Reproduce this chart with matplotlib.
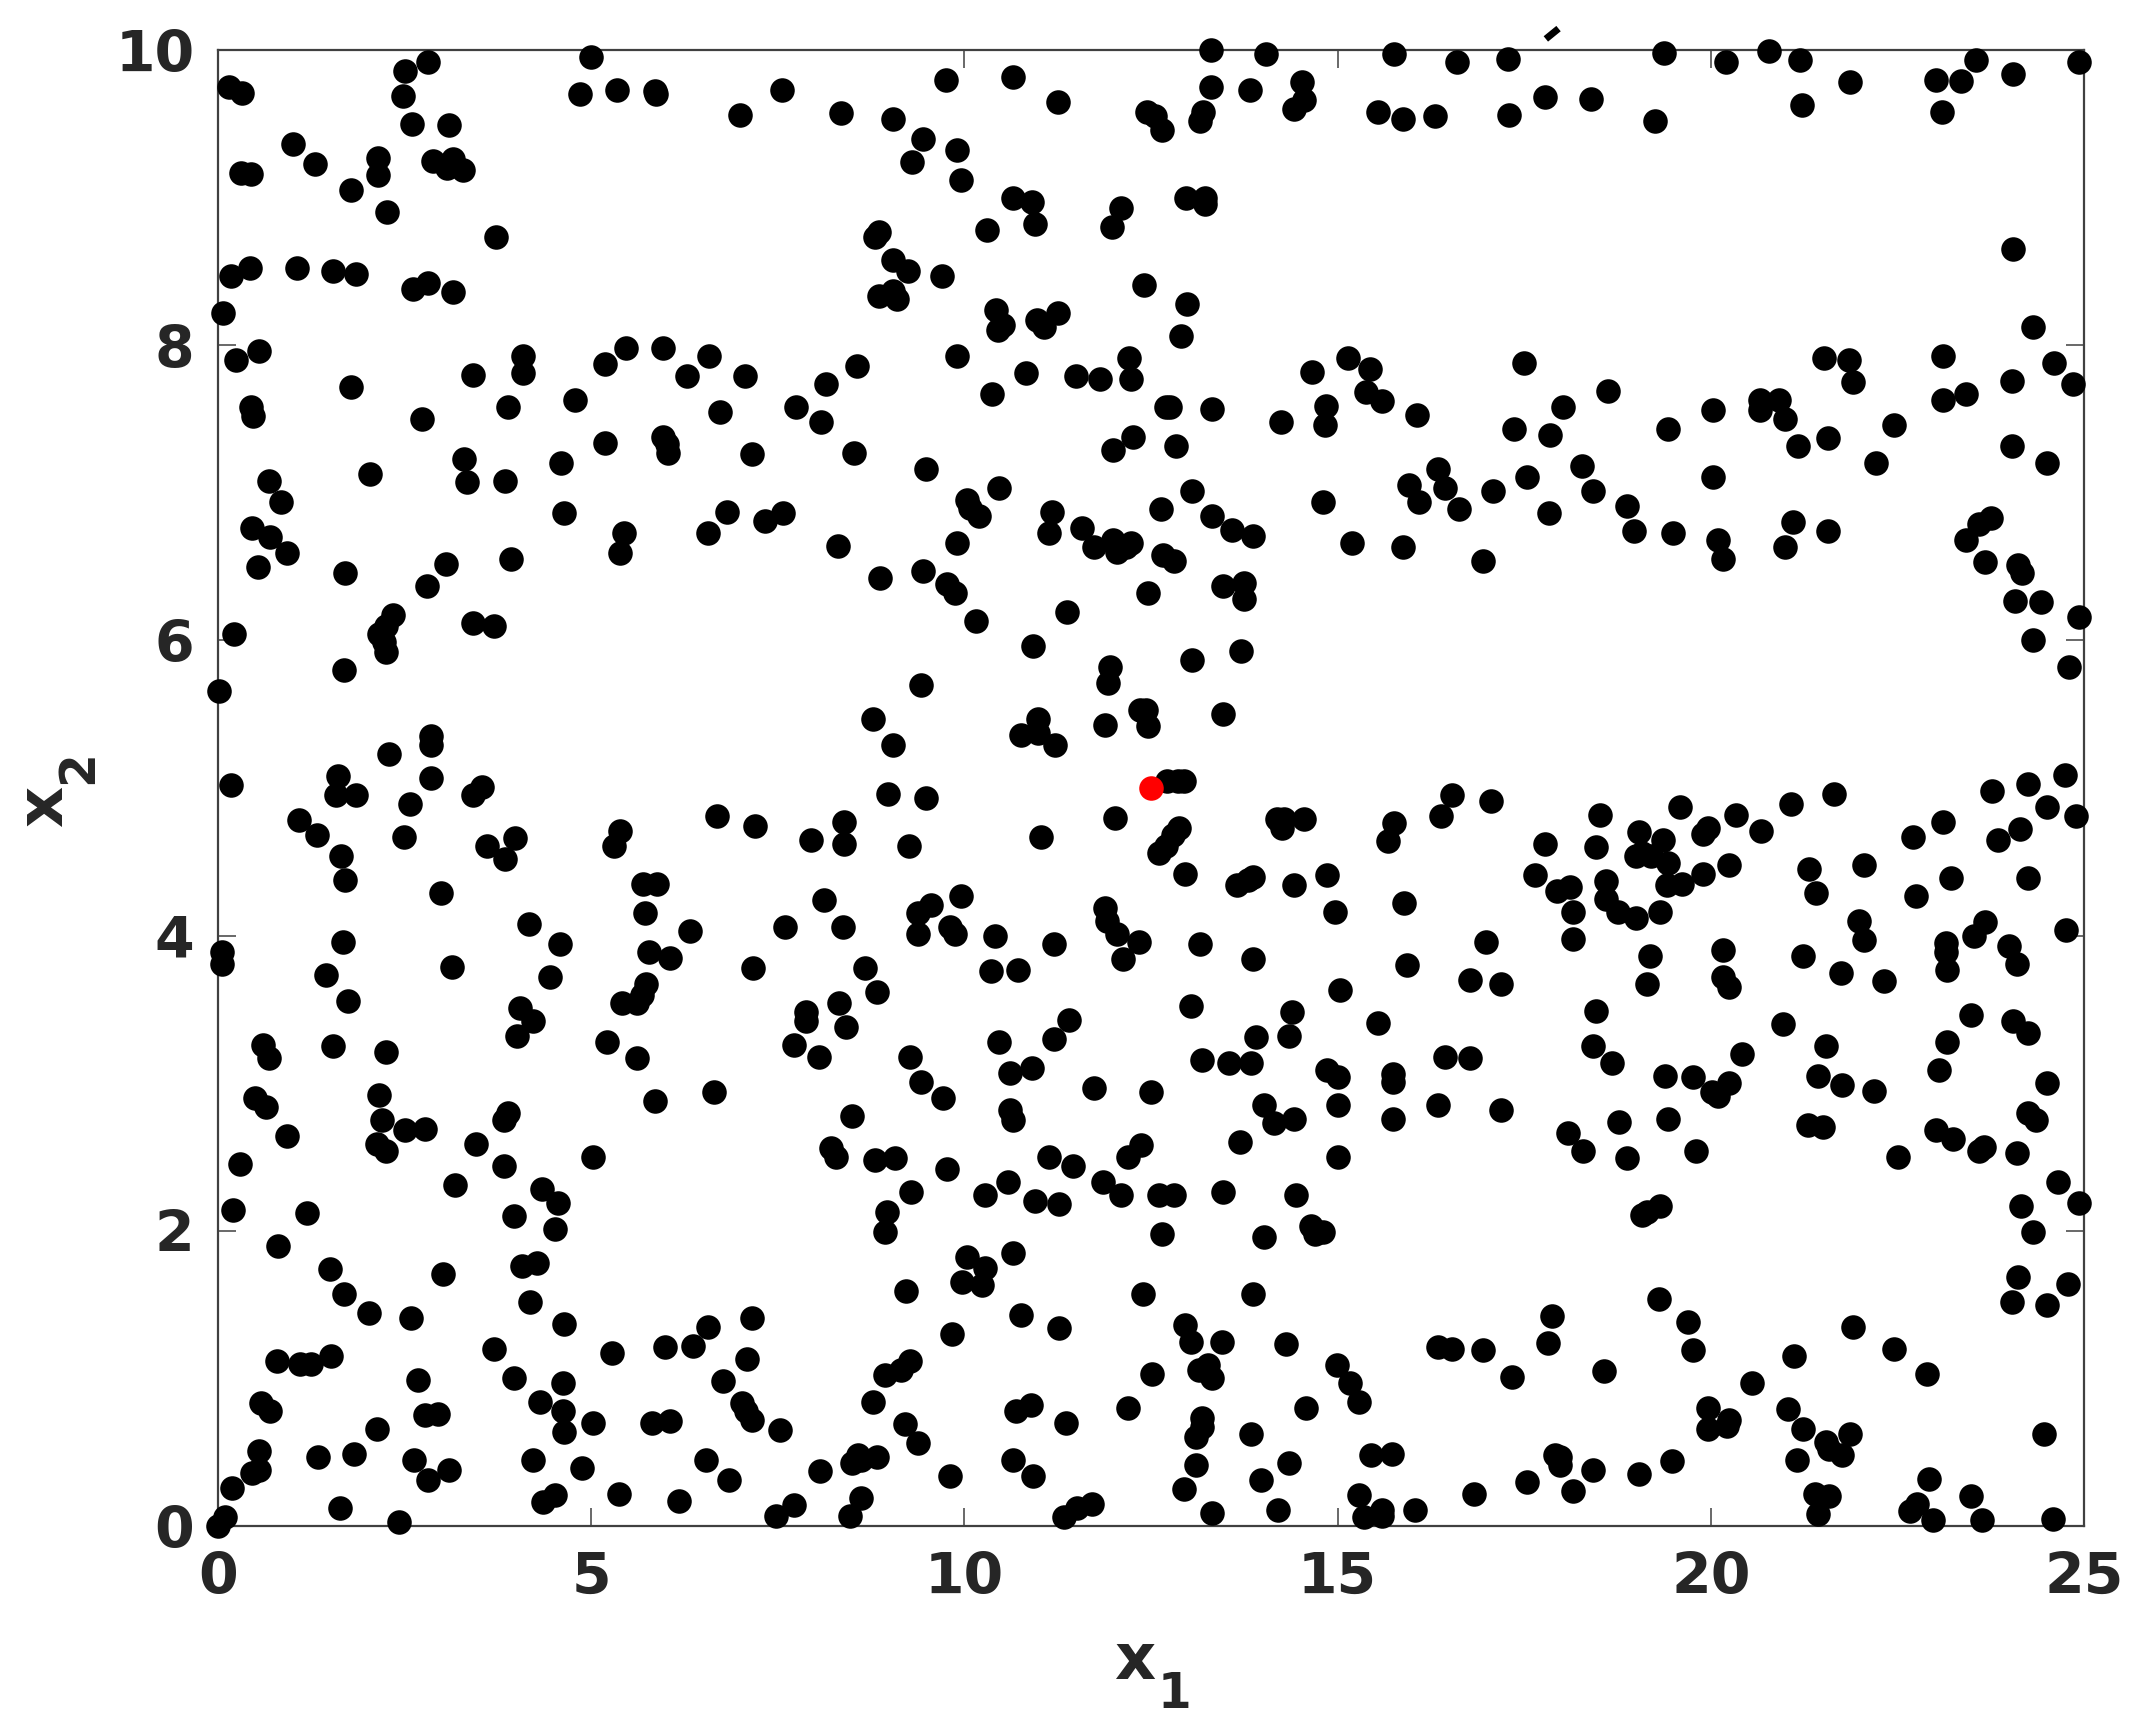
import matplotlib
matplotlib.use("Agg")
import matplotlib.pyplot as plt
import numpy as np

band_top = [
(.15,9.75),(.32,9.71),(1.0,9.36),(1.3,9.23),(.31,9.17),(.44,9.16),(2.5,9.86),(2.82,9.92),(2.48,9.69),(2.6,9.5),(3.09,9.49),
(2.15,9.27),(2.15,9.15),(1.78,9.05),(2.88,9.25),(3.15,9.26),(3.07,9.2),(3.28,9.19),(2.27,8.9),(3.72,8.73),(.18,8.47),(.43,8.52),
(1.06,8.52),(1.54,8.5),(1.85,8.48),(2.61,8.38),(2.82,8.42),(3.15,8.36),(.07,8.22),
(4.85,9.7),(5.0,9.95),(5.35,9.73),(5.85,9.72),(5.87,9.7),(7.0,9.56),(7.55,9.73),(8.35,9.57),(9.05,9.53),(9.45,9.4),(9.75,9.8),
(9.9,9.32),(10.65,9.82),(11.25,9.65),(9.3,9.24),(9.95,9.12),(10.65,9.0),(10.9,8.97),(10.95,8.82),(10.3,8.78),(8.8,8.73),(8.85,8.77),
(9.05,8.58),(9.25,8.5),(9.7,8.47),(8.85,8.33),(9.05,8.37),(9.1,8.31),(12.1,8.93),(11.98,8.8),(12.45,9.58),(12.55,9.55),(12.65,9.46),
(13.15,9.52),(13.2,9.58),(13.3,9.75),(13.3,10.0),(13.82,9.73),(14.04,9.97),(14.42,9.6),(14.52,9.78),(14.55,9.66),(12.97,9.0),(13.23,9.0),
(13.23,8.96),(15.76,9.97),(15.54,9.58),(15.87,9.53),(16.3,9.55),(16.6,9.92),(17.28,9.94),(17.3,9.56),(17.78,9.68),(18.4,9.67),(19.25,9.52),
(19.37,9.98),(20.2,9.92),(20.78,9.99),(21.2,9.93),(21.22,9.63),(21.87,9.78),(23.02,9.8),(23.35,9.79),(23.1,9.58),(23.55,9.93),(24.05,9.84),
(24.93,9.92),(24.05,8.65),(12.4,8.41),(12.98,8.28),(12.9,8.06),(10.43,8.24),(10.45,8.1),(10.52,8.14),(10.97,8.17),(11.07,8.12),(11.25,8.22),
]
band_upper = [
(.24,7.9),(.55,7.96),(1.78,7.72),(3.42,7.8),(.44,7.58),(.47,7.52),(.68,7.08),(.84,6.94),(.46,6.76),(.7,6.7),(.92,6.59),(.53,6.5),
(2.03,7.13),(1.7,6.46),(2.73,7.5),(3.3,7.23),(3.33,7.07),(3.85,7.08),(3.89,7.58),(4.09,7.93),(4.09,7.81),(4.78,7.63),(4.6,7.2),(4.64,6.86),
(3.92,6.55),(3.06,6.52),(2.8,6.37),(3.41,6.12),(3.7,6.1),(2.35,6.17),(2.25,6.1),(2.16,6.04),(2.22,5.99),(2.25,5.92),(1.69,5.8),(.22,6.04),(.02,5.66),
(5.19,7.87),(5.46,7.98),(5.96,7.98),(5.19,7.34),(5.96,7.38),(6.01,7.33),(6.03,7.27),(5.44,6.73),(5.39,6.59),(6.29,7.79),(6.58,7.93),(7.06,7.79),
(6.73,7.55),(7.15,7.26),(6.56,6.73),(6.82,6.87),(7.33,6.81),(7.57,6.86),(7.75,7.58),(8.08,7.48),(8.14,7.74),(8.56,7.86),(8.52,7.27),(8.3,6.64),
(8.87,6.42),(9.44,6.47),(9.48,7.16),(9.9,7.93),(10.37,7.67),(9.9,6.66),(10.03,6.95),(10.19,6.84),(10.08,6.9),(10.47,7.03),(9.77,6.38),(9.88,6.32),
(10.15,6.13),(11.18,6.87),(11.14,6.73),(10.83,7.81),(11.49,7.79),(11.82,7.77),(12.2,7.91),(12.23,7.77),(11.99,7.29),(12.26,7.38),(12.7,7.58),(12.76,7.58),
(12.83,7.32),(13.32,7.57),(13.05,7.01),(12.63,6.89),(13.32,6.84),(13.58,6.75),(13.87,6.71),(11.58,6.76),(11.73,6.63),(11.99,6.68),(12.04,6.6),(12.23,6.66),
(12.17,6.63),(12.66,6.58),(12.81,6.54),(12.46,6.32),(13.47,6.37),(13.75,6.39),(13.75,6.28),(13.71,5.93),(11.38,6.19),(10.92,5.96),(11.95,5.82),(11.93,5.71),
(13.05,5.87),(9.42,5.7),(8.78,5.47),(9.05,5.29),(10.76,5.36),(10.98,5.47),(10.98,5.37),(11.22,5.29),(11.88,5.43),(12.35,5.53),(12.43,5.53),(12.46,5.42),(13.47,5.5),
(14.24,7.48),(14.66,7.82),(14.85,7.59),(14.83,7.46),(14.81,6.94),(15.14,7.91),(15.19,6.66),(15.43,7.84),(15.38,7.68),(15.6,7.62),(16.06,7.53),(15.87,6.63),
(15.95,7.05),(16.09,6.94),(16.35,7.16),(16.44,7.03),(16.62,6.89),(16.95,6.54),(17.08,7.01),(17.36,7.43),(17.5,7.88),(17.54,7.11),(17.85,7.39),(17.83,6.86),
(18.02,7.58),(18.27,7.18),(18.42,7.01),(18.62,7.69),(18.88,6.91),(18.97,6.74),(19.43,7.43),(19.5,6.73),(20.03,7.56),(20.03,7.11),(20.1,6.68),(20.16,6.55),
(20.66,7.63),(20.66,7.56),(20.91,7.63),(20.99,7.5),(21.17,7.32),(20.99,6.63),(21.1,6.8),(21.52,7.91),(21.85,7.9),(21.9,7.75),(21.57,7.37),(21.57,6.74),
(22.21,7.2),(22.45,7.46),(23.11,7.93),(23.11,7.63),(23.42,7.67),(23.42,6.68),(23.59,6.79),(23.75,6.83),(23.68,6.53),(24.03,7.76),(24.03,7.32),(24.12,6.51),
(24.17,6.46),(24.08,6.27),(24.43,6.26),(24.32,8.12),(24.6,7.88),(24.85,7.74),(24.5,7.2),(24.32,6.0),(24.93,6.16),(24.8,5.82),
]
band_middle = [
(.18,5.02),(2.29,5.23),(1.61,5.08),(1.58,4.95),(1.85,4.95),(2.86,5.35),(2.86,5.29),(2.86,5.07),(2.57,4.89),(2.49,4.67),(1.08,4.78),(1.32,4.68),(1.65,4.54),
(1.7,4.38),(1.67,3.96),(2.99,4.29),(3.41,4.95),(3.54,5.01),(3.61,4.61),(3.85,4.52),(3.98,4.66),(4.16,4.08),(4.58,3.94),(1.45,3.73),(5.3,4.61),(5.39,4.71),
(5.7,4.35),(5.88,4.35),(5.72,4.15),(5.77,3.89),(6.05,3.85),(6.32,4.03),(6.69,4.81),(7.2,4.74),(7.59,4.06),(7.94,4.65),(8.12,4.24),(8.39,4.77),(8.39,4.62),
(8.38,4.06),(8.98,4.96),(9.48,4.93),(9.26,4.61),(9.38,4.15),(9.38,4.01),(9.55,4.21),(9.81,4.06),(9.88,4.01),(9.95,4.27),(10.41,4.0),(11.02,4.67),(11.2,3.94),
(11.88,4.19),(11.91,4.1),(12.04,4.01),(12.34,3.96),(12.02,4.8),(12.61,4.56),(12.7,4.61),(12.79,4.68),(12.87,4.73),(12.72,5.05),(12.86,5.05),(12.94,5.05),(12.96,4.42),
(13.16,3.94),(13.65,4.34),(13.8,4.38),(13.87,4.4),(14.19,4.79),(14.26,4.73),(14.28,4.79),(14.55,4.79),(14.42,4.34),(14.86,4.41),(14.97,4.16),(15.67,4.64),
(15.76,4.76),(15.89,4.22),(16.39,4.81),(16.53,4.95),(17.06,4.91),(16.99,3.96),(17.65,4.41),(17.78,4.62),(17.94,4.3),(18.11,4.33),(18.16,4.16),(18.16,3.98),
(18.46,4.6),(18.51,4.82),(18.6,4.37),(18.6,4.25),(18.75,4.16),(19.0,4.12),(19.04,4.7),(19.0,4.54),(19.2,4.54),(19.08,4.56),(19.36,4.65),(19.43,4.49),(19.32,4.16),
(19.41,4.34),(19.61,4.35),(19.59,4.87),(19.89,4.69),(19.96,4.73),(19.89,4.42),(20.24,4.48),(20.34,4.82),(20.67,4.71),(21.08,4.89),(21.32,4.45),(21.41,4.29),
(21.65,4.96),(22.05,4.48),(21.98,4.1),(22.05,3.97),(22.71,4.67),(22.75,4.27),(23.11,4.77),(23.22,4.39),(23.15,3.95),(23.15,3.89),(23.53,4.0),(23.68,4.09),
(23.77,4.98),(23.85,4.65),(24.25,5.03),(24.14,4.72),(24.25,4.39),(23.99,3.93),(24.1,3.81),(24.5,4.87),(24.74,5.09),(24.89,4.81),(24.76,4.04),
]
band_lower = [
(.05,3.89),(.05,3.81),(.6,3.26),(.68,3.17),(.5,2.9),(.64,2.84),(.92,2.64),(.29,2.45),(.2,2.14),(.81,1.9),(1.19,2.12),(1.54,3.25),(1.74,3.56),(2.25,3.21),(2.16,2.92),
(2.2,2.75),(2.13,2.59),(2.25,2.54),(2.51,2.68),(2.77,2.69),(3.13,3.79),(3.45,2.59),(3.17,2.31),(3.83,2.75),(3.89,2.8),(3.83,2.44),(3.96,2.1),(4.05,3.51),(4.22,3.42),
(4.0,3.32),(4.45,3.72),(4.34,2.28),(4.56,2.19),(4.51,2.01),(4.07,1.76),(4.27,1.78),(3.02,1.71),(4.18,1.52),(5.02,2.5),(5.21,3.28),(5.61,3.17),(5.41,3.54),(5.61,3.54),
(5.68,3.6),(5.74,3.67),(5.85,2.88),(6.65,2.94),(7.17,3.78),(7.72,3.26),(7.88,3.48),(7.88,3.42),(8.05,3.18),(8.32,3.54),(8.41,3.38),(8.67,3.78),(8.83,3.62),(9.27,3.18),
(9.42,3.01),(9.71,2.9),(8.5,2.78),(8.21,2.56),(8.28,2.5),(8.8,2.48),(9.07,2.49),(9.77,2.42),(9.29,2.26),(8.96,2.13),(8.94,1.99),(10.36,3.76),(10.72,3.77),(10.47,3.28),
(10.61,3.07),(10.9,3.1),(10.61,2.82),(10.65,2.75),(10.59,2.33),(10.28,2.24),(10.94,2.2),(11.27,2.18),(11.13,2.5),(11.46,2.44),(11.2,3.3),(11.4,3.43),(11.73,2.97),
(11.86,2.33),(12.1,2.24),(12.19,2.5),(12.37,2.58),(12.5,2.94),(12.13,3.84),(13.03,3.52),(13.18,3.16),(13.54,3.14),(13.84,3.14),(13.91,3.31),(14.02,2.85),(14.15,2.73),
(13.69,2.6),(14.42,2.76),(14.39,3.48),(14.35,3.32),(13.87,3.84),(15.03,3.63),(15.54,3.41),(14.86,3.09),(15.0,3.04),(15.0,2.85),(15.0,2.5),(15.74,3.06),(15.74,3.01),
(15.74,2.76),(15.93,3.8),(16.44,3.18),(16.77,3.17),(16.35,2.85),(16.77,3.7),(17.19,3.67),(17.19,2.82),(18.46,3.49),(18.42,3.25),(18.68,3.14),(18.09,2.66),(18.29,2.54),
(18.77,2.74),(18.88,2.49),(19.19,3.86),(19.15,3.67),(19.39,3.05),(19.43,2.76),(19.76,3.04),(19.8,2.54),(20.01,2.94),(20.09,2.91),(20.24,3.0),(20.42,3.2),(20.16,3.9),
(20.16,3.72),(20.24,3.65),(20.97,3.4),(21.24,3.86),(21.43,3.05),(21.54,3.25),(21.3,2.72),(21.5,2.7),(21.74,3.75),(21.76,2.99),(22.18,2.95),(22.32,3.69),(22.51,2.5),
(23.02,2.68),(23.24,2.62),(23.06,3.09),(23.17,3.28),(23.17,3.77),(23.48,3.46),(23.59,2.54),(23.66,2.57),(24.1,2.53),(24.05,3.42),(24.25,3.34),(24.25,2.8),(24.36,2.75),
(24.5,3.0),(24.65,2.33),(24.16,2.17),(24.93,2.19),(24.32,1.99),(19.08,2.11),(19.15,2.13),(19.32,2.17),(14.02,1.96),(13.47,2.26),(12.61,2.24),(12.81,2.24),(12.65,1.98),
(14.44,2.24),(14.64,2.03),(14.7,1.98),(14.81,1.99),
]
band_bottom = [
(.0,.0),(.09,.06),(.19,.26),(.55,.51),(.55,.38),(.46,.36),(.57,.83),(.7,.78),(.79,1.12),(1.1,1.1),(1.25,1.1),(1.52,1.15),(1.5,1.74),(1.69,1.57),(2.02,1.44),(2.58,1.41),
(1.34,.47),(1.82,.49),(2.13,.66),(1.63,.12),(2.42,.03),(2.62,.45),(2.68,.99),(2.77,.75),(2.95,.76),(2.82,.31),(3.1,.38),(3.7,1.2),(3.96,1.0),(4.31,.84),(4.62,.97),(4.62,.78),
(4.64,.64),(4.22,.45),(4.36,.16),(4.51,.21),(4.88,.39),(5.02,.7),(4.64,1.37),(5.28,1.17),(5.37,.22),(5.81,.7),(6.05,.71),(5.99,1.21),(6.18,.17),(6.36,1.22),(6.56,1.35),
(6.54,.45),(6.76,.98),(6.85,.31),(7.02,.83),(7.07,.78),(7.15,.72),(7.09,1.13),(7.15,1.41),(7.53,.65),(7.48,.07),(7.72,.14),(8.06,.37),(8.47,.07),(8.5,.43),(8.58,.48),(8.61,.45),
(8.61,.19),(8.78,.84),(8.83,.47),(8.93,1.02),(9.15,1.06),(9.27,1.12),(9.2,.69),(9.38,.56),(9.22,1.59),(9.81,.34),(9.84,1.3),(9.97,1.65),(10.03,1.82),(10.23,1.63),(10.28,1.75),
(10.65,1.85),(10.76,1.43),(10.65,.45),(10.69,.78),(10.89,.82),(10.92,.34),(11.27,1.34),(11.36,.7),(11.33,.06),(11.51,.12),(11.71,.15),(12.19,.8),(12.39,1.57),(12.52,1.03),
(12.96,1.36),(13.03,1.25),(13.14,1.06),(13.27,1.09),(13.32,1.0),(13.45,1.25),(13.87,1.57),(13.18,.73),(13.18,.67),(13.1,.6),(13.1,.41),(12.94,.25),(13.32,.09),(13.84,.62),
(13.97,.31),(14.2,.11),(14.35,.43),(14.31,1.23),(14.57,.8),(14.99,1.09),(15.16,.97),(15.29,.84),(15.29,.21),(15.45,.48),(15.73,.49),(15.36,.06),(15.6,.11),(15.6,.07),(16.04,.11),
(16.35,1.21),(16.53,1.2),(16.95,1.19),(16.83,.22),(17.34,1.01),(17.54,.3),(17.87,1.42),(17.82,1.24),(17.91,.48),(17.98,.47),(17.98,.41),(18.16,.24),(18.42,.38),(18.57,1.05),
(19.04,.35),(19.3,1.54),(19.48,.44),(19.7,1.38),(19.76,1.19),(19.96,.8),(19.96,.66),(20.25,.72),(20.22,.68),(20.55,.97),(21.11,1.15),(21.04,.79),(21.24,.66),(21.15,.45),
(21.39,.22),(21.59,.2),(21.43,.08),(21.54,.57),(21.59,.52),(21.76,.48),(21.87,.62),(21.9,1.35),(22.45,1.2),(22.89,1.03),(22.67,.1),(22.76,.15),(22.93,.32),(22.98,.04),
(23.48,.2),(23.63,.04),(24.03,1.52),(24.12,1.69),(24.5,1.5),(24.78,1.64),(24.47,.62),(24.58,.05),
]
query_point = (12.5, 5.0)
stray_x1 = [17.79, 17.96]
stray_x2 = [10.075, 10.145]
x_ticks = [0, 5, 10, 15, 20, 25]
y_ticks = [0, 2, 4, 6, 8, 10]

W, H = 2148, 1728
fig = plt.figure(figsize=(W/100, H/100), dpi=100)
L, R, T, B = 218, 2084, 50, 1526
ax = fig.add_axes([L/W, 1-B/H, (R-L)/W, (B-T)/H])
samples = np.array(band_top + band_upper + band_middle + band_lower + band_bottom)
ax.scatter(samples[:,0], samples[:,1], s=312, c='k', linewidths=0, clip_on=False, zorder=3)
ax.scatter(*query_point, s=312, c='#ff0000', linewidths=0, clip_on=False, zorder=4)
ax.plot(stray_x1, stray_x2, color='k', lw=5, solid_capstyle='butt', clip_on=False, zorder=3)
ax.set_xlim(0, 25); ax.set_ylim(0, 10)
ax.set_xticks(x_ticks); ax.set_yticks(y_ticks)
ink = '#262626'
for s in ax.spines.values():
    s.set_linewidth(1.6); s.set_color('#404040')
ax.tick_params(direction='in', top=True, right=True, length=13, width=1.1, color='#404040',
               labelsize=41, labelcolor=ink)
ax.tick_params(axis='x', pad=18)
ax.tick_params(axis='y', pad=17)
for t in ax.get_xticklabels()+ax.get_yticklabels():
    t.set_fontweight('bold')
lab = dict(color=ink, fontweight='bold', ha='center', va='baseline', rotation_mode='anchor')
fig.text(1135/W, 1-1679/H, 'x', fontsize=46, **lab)
fig.text(1174/W, 1-1708/H, '1', fontsize=35, **lab)
fig.text(62/W, 1-806/H, 'x', fontsize=46, rotation=90, **lab)
fig.text(92/W, 1-767/H, '2', fontsize=35, rotation=90, **lab)
fig.savefig('out.png', dpi=100)
